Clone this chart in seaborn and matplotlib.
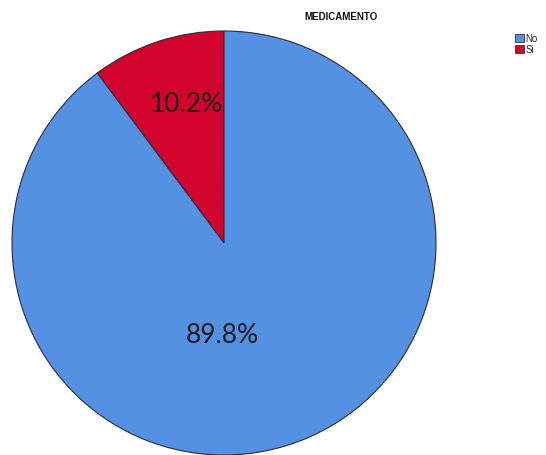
import matplotlib
matplotlib.use("Agg")
import matplotlib.pyplot as plt
import seaborn as sns
import numpy as np

categories = ["No", "Si"]
percentages = [89.8, 10.2]
colors = ["#5591E3", "#D2042D"]
title = "MEDICAMENTO"

sns.set_theme(style="white")
plt.rcParams["font.family"] = ["DejaVu Sans"]

fig = plt.figure(figsize=(5.46, 4.56), dpi=100)
ax = fig.add_axes([12 / 546, 0.0, 424 / 546, 424 / 456])

# Red wedge starts at 12 o'clock and runs counter-clockwise
wedges, _ = ax.pie(
    percentages[::-1],
    colors=colors[::-1],
    startangle=90,
    counterclock=True,
    wedgeprops=dict(edgecolor="#2a2a3a", linewidth=0.8),
)
ax.set_xlim(-1.0, 1.0)
ax.set_ylim(-1.0, 1.0)
ax.set_aspect("equal")

label_pos = {"Si": (-0.175, 0.66), "No": (-0.01, -0.43)}
for cat, val in zip(categories, percentages):
    x, y = label_pos[cat]
    ax.text(x, y, f"{val:.1f}%", ha="center", va="center",
            fontsize=19, family="Lato", color="#1a1a1a")

fig.text(341 / 546, 1 - 17 / 456, title, ha="center", va="center",
         fontsize=7, fontweight="bold", family="Liberation Sans", color="#111111")

handles = [plt.Rectangle((0, 0), 1, 1, facecolor=c, edgecolor="#333333", linewidth=0.6)
           for c in colors]
fig.legend(handles, categories, loc="upper left", bbox_to_anchor=(515 / 546, 1 - 34 / 456),
           frameon=False, handlelength=0.9, handleheight=0.9,
           handletextpad=0.2, labelspacing=0.15, borderpad=0, borderaxespad=0,
           prop={"family": "Liberation Sans", "size": 7})

fig.savefig("out.png", dpi=100, facecolor="white")
